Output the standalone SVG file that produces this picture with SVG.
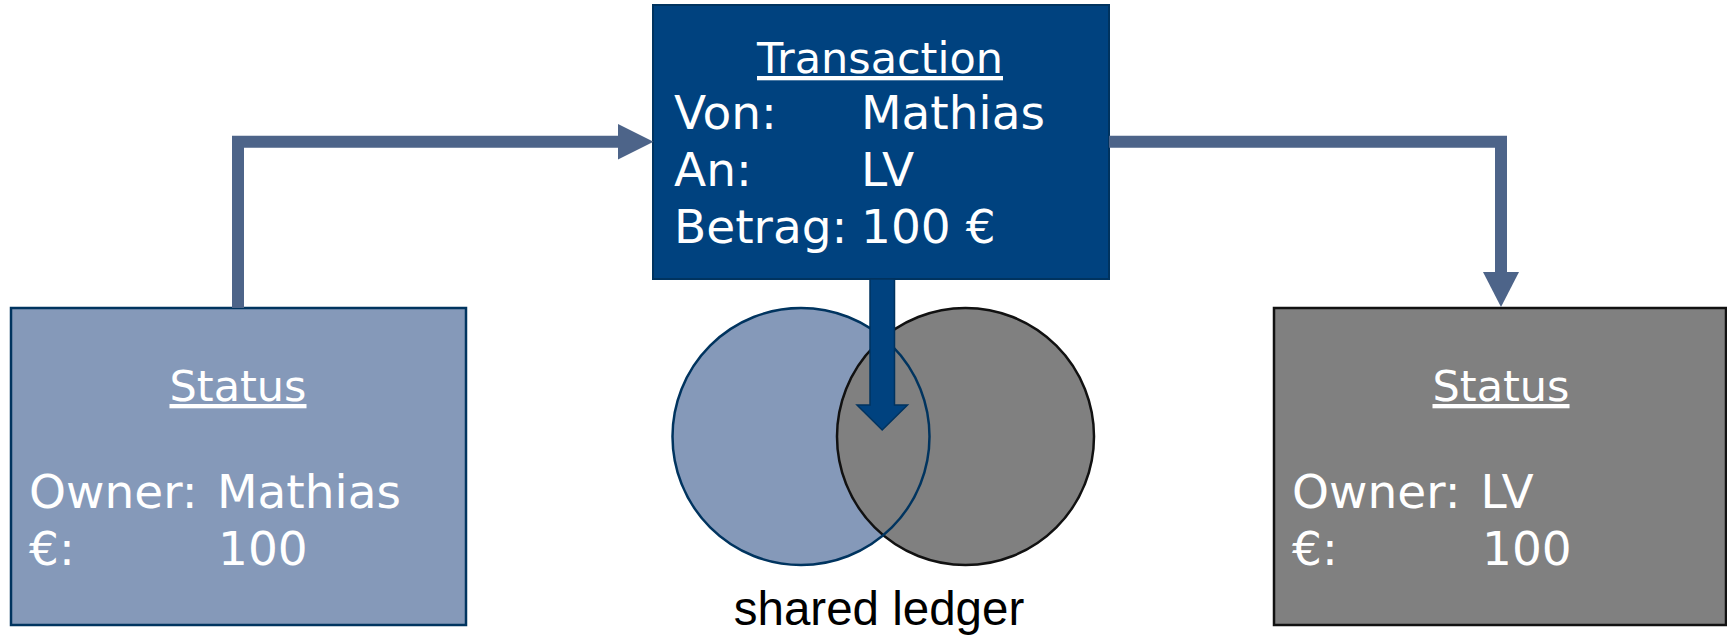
<svg xmlns="http://www.w3.org/2000/svg" width="1727" height="637" viewBox="0 0 1727 637">
<style>
.t{font-family:"DejaVu Sans",Verdana,sans-serif;fill:#ffffff}
.title{font-size:43px;text-decoration:underline}
.body{font-size:47px}
.conn{fill:none;stroke:#4d6489;stroke-width:12;stroke-linejoin:miter}
.head{fill:#4d6489}
</style>
<rect width="1727" height="637" fill="#ffffff"/>
<g id="ledger">
<circle cx="801" cy="436.5" r="128.5" fill="#8599b9"/>
<circle cx="965.5" cy="436.5" r="128.5" fill="#808080" stroke="#111111" stroke-width="2.5"/>
<circle cx="801" cy="436.5" r="128.5" fill="none" stroke="#00345f" stroke-width="2.5"/>
<text x="879" y="625" text-anchor="middle" font-family="Liberation Sans, Arial, sans-serif" font-size="47.5" fill="#000000">shared ledger</text>
</g>
<g id="transaction">
<rect x="653" y="5" width="456" height="274" fill="#00427f" stroke="#00335f" stroke-width="2"/>
<text class="t title" x="880" y="73" text-anchor="middle">Transaction</text>
<text class="t body" x="674" y="129">Von:</text>
<text class="t body" x="861" y="129">Mathias</text>
<text class="t body" x="674" y="186">An:</text>
<text class="t body" x="861" y="186">LV</text>
<text class="t body" x="674" y="243">Betrag:</text>
<text class="t body" x="861" y="243">100 €</text>
</g>
<g id="status-left">
<rect x="11" y="308" width="455" height="317" fill="#8599b9" stroke="#00345f" stroke-width="2.5"/>
<text class="t title" x="238" y="401" text-anchor="middle">Status</text>
<text class="t body" x="29" y="508">Owner:</text>
<text class="t body" x="217" y="508">Mathias</text>
<text class="t body" x="29" y="565">€:</text>
<text class="t body" x="218" y="565">100</text>
</g>
<g id="status-right">
<rect x="1274" y="308" width="452" height="317" fill="#808080" stroke="#111111" stroke-width="2.5"/>
<text class="t title" x="1501" y="401" text-anchor="middle">Status</text>
<text class="t body" x="1292" y="508">Owner:</text>
<text class="t body" x="1480.5" y="508">LV</text>
<text class="t body" x="1292" y="565">€:</text>
<text class="t body" x="1482" y="565">100</text>
</g>
<g id="connectors">
<path class="conn" d="M238,308 V141.7 H619"/>
<polygon class="head" points="618,124 653.5,141.7 618,159.5"/>
<path class="conn" d="M1109,141.7 H1501 V273"/>
<polygon class="head" points="1483,272 1519,272 1501,307"/>
<polygon points="870,279 894.5,279 894.5,405 907.5,405 882.2,430 857,405 870,405" fill="#00427f" stroke="#00335f" stroke-width="1.5"/>
</g>
</svg>
